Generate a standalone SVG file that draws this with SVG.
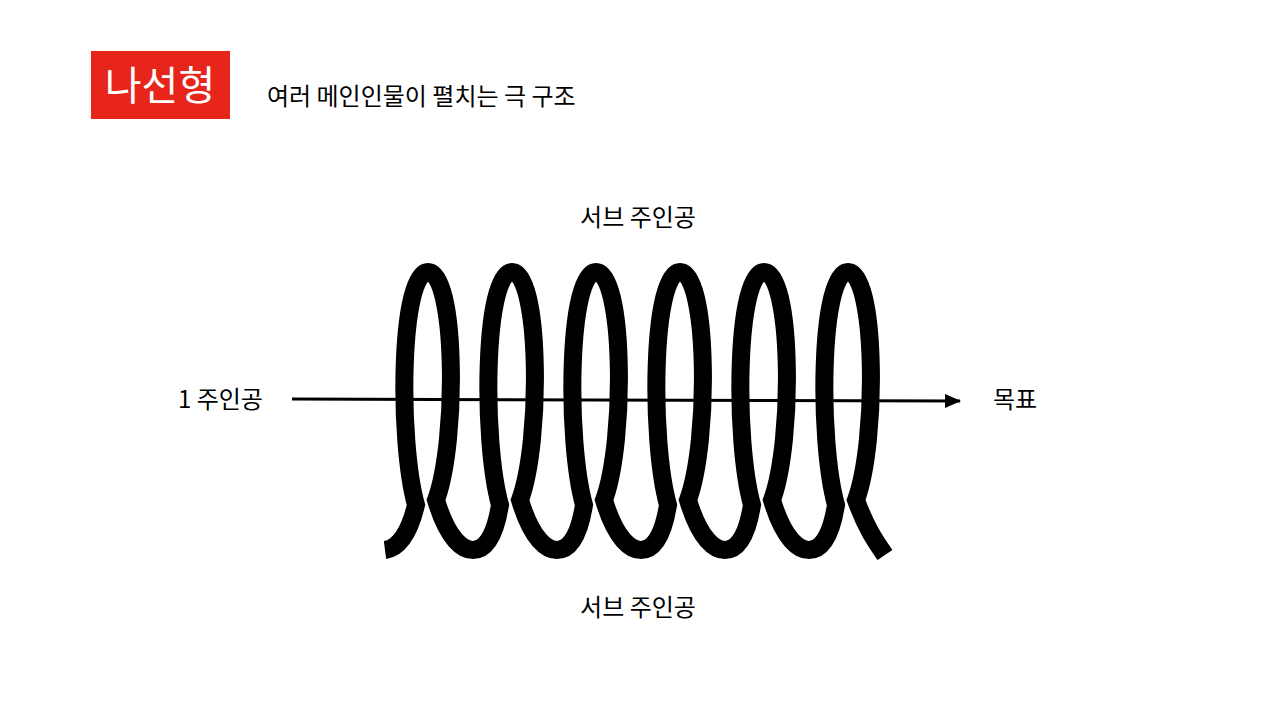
<svg xmlns="http://www.w3.org/2000/svg" width="1280" height="710" viewBox="0 0 1280 710">
<style>
text{font-family:"Noto Sans CJK KR","Liberation Sans",sans-serif;fill:#000}
.l{font-size:24px}
</style>
<defs><marker id="ah" markerWidth="10" markerHeight="10" refX="9" refY="5" orient="auto" markerUnits="userSpaceOnUse"><path d="M0,0 L14,5 L0,10Z" transform="scale(1)"/></marker>
<marker id="a2" markerWidth="16" markerHeight="14" refX="15" refY="7" orient="auto" markerUnits="userSpaceOnUse"><path d="M0,0 L16,7 L0,14Z"/></marker></defs>
<rect width="1280" height="710" fill="#fff"/>
<g id="title"><rect x="91" y="51" width="139" height="68" fill="#e8251a"/><text x="160" y="100" font-size="40" text-anchor="middle" style="fill:#fff">나선형</text></g>
<g id="subtitle"><text class="l" x="267" y="105">여러 메인인물이 펼치는 극 구조</text></g>
<g id="coil"><path fill="none" stroke="#000" stroke-width="18" d="M385,550 C400,548 410,530 416,505
C398,440 400,272 428,272 C456,272 458,440 436,500 C448,540 463,550 473,550 C488,550 496,530 500,505
C482,440 484,272 512,272 C540,272 542,440 520,500 C532,540 547,550 557,550 C572,550 580,530 584,505
C566,440 568,272 596,272 C624,272 626,440 604,500 C616,540 631,550 641,550 C656,550 664,530 668,505
C650,440 652,272 680,272 C708,272 710,440 688,500 C700,540 715,550 725,550 C740,550 748,530 752,505
C734,440 736,272 764,272 C792,272 794,440 772,500 C784,540 799,550 809,550 C824,550 832,530 836,505
C818,440 820,272 848,272 C876,272 878,440 856,500 C866,528 876,542 885,555"/></g>
<g id="connectors"><line x1="292" y1="399" x2="960" y2="401" stroke="#000" stroke-width="3" marker-end="url(#a2)"/></g>
<g id="n1"><text class="l" x="178" y="408">1 주인공</text></g>
<g id="goal"><text class="l" x="993" y="408">목표</text></g>
<g id="subtop"><text class="l" x="638" y="226" text-anchor="middle">서브 주인공</text></g>
<g id="subbot"><text class="l" x="638" y="616" text-anchor="middle">서브 주인공</text></g>
</svg>
